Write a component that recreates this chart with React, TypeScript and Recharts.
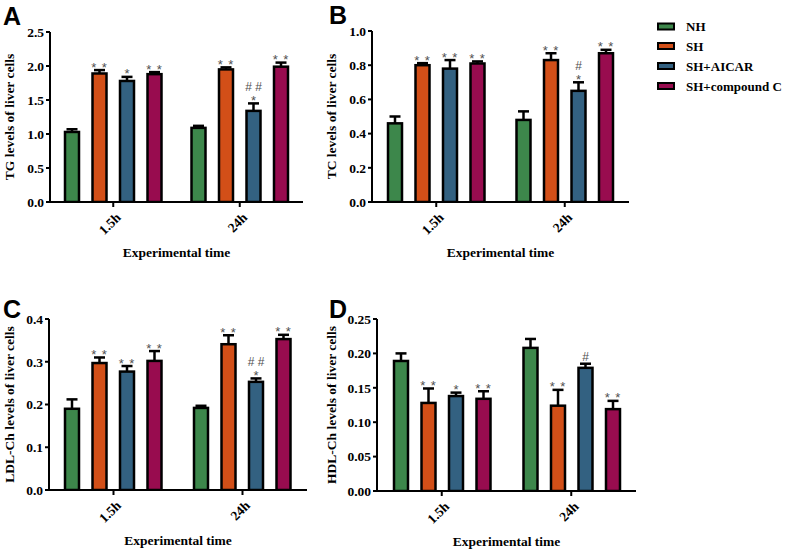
import React from 'react';
import { BarChart, Bar, XAxis, YAxis, Label } from 'recharts';

const categories = ['1.5h', '24h'];
const seriesNames = ['NH', 'SH', 'SH+AICAR', 'SH+compound C'];
const seriesColors = ['#3d874b', '#d24f18', '#336181', '#980c4f'];

// TG
const tgNH = [1.03, 1.09];
const tgSH = [1.89, 1.95];
const tgAICAR = [1.78, 1.34];
const tgCompC = [1.88, 1.99];
const tgErrNH = [0.04, 0.03];
const tgErrSH = [0.05, 0.03];
const tgErrAICAR = [0.06, 0.11];
const tgErrCompC = [0.03, 0.06];
const tgSigNH = [[], []];
const tgSigSH = [['* *'], ['* *']];
const tgSigAICAR = [['*'], ['# #', '*']];
const tgSigCompC = [['* *'], ['* *']];
const tgTicks = [0, 0.5, 1.0, 1.5, 2.0, 2.5];

// TC
const tcNH = [0.46, 0.48];
const tcSH = [0.8, 0.83];
const tcAICAR = [0.78, 0.65];
const tcCompC = [0.81, 0.87];
const tcErrNH = [0.04, 0.05];
const tcErrSH = [0.012, 0.04];
const tcErrAICAR = [0.05, 0.05];
const tcErrCompC = [0.012, 0.02];
const tcSigNH = [[], []];
const tcSigSH = [['* *'], ['* *']];
const tcSigAICAR = [['* *'], ['#', '*']];
const tcSigCompC = [['* *'], ['* *']];
const tcTicks = [0, 0.2, 0.4, 0.6, 0.8, 1.0];

// LDL-Ch
const ldlNH = [0.19, 0.192];
const ldlSH = [0.297, 0.341];
const ldlAICAR = [0.277, 0.253];
const ldlCompC = [0.302, 0.353];
const ldlErrNH = [0.022, 0.005];
const ldlErrSH = [0.013, 0.021];
const ldlErrAICAR = [0.013, 0.008];
const ldlErrCompC = [0.023, 0.01];
const ldlSigNH = [[], []];
const ldlSigSH = [['* *'], ['* *']];
const ldlSigAICAR = [['* *'], ['# #', '*']];
const ldlSigCompC = [['* *'], ['* *']];
const ldlTicks = [0, 0.1, 0.2, 0.3, 0.4];

// HDL-Ch
const hdlNH = [0.189, 0.208];
const hdlSH = [0.128, 0.124];
const hdlAICAR = [0.138, 0.179];
const hdlCompC = [0.134, 0.119];
const hdlErrNH = [0.011, 0.013];
const hdlErrSH = [0.021, 0.023];
const hdlErrAICAR = [0.005, 0.006];
const hdlErrCompC = [0.011, 0.012];
const hdlSigNH = [[], []];
const hdlSigSH = [['* *'], ['* *']];
const hdlSigAICAR = [['*'], ['#']];
const hdlSigCompC = [['* *'], ['* *']];
const hdlTicks = [0, 0.05, 0.1, 0.15, 0.2, 0.25];

const SERIF = '"Liberation Serif", "Times New Roman", serif';
const SANS = '"Liberation Sans", Arial, sans-serif';
const KEYS = ['s0', 's1', 's2', 's3'];

function buildRows(vals: number[][], errs: number[][], sigs: string[][][]) {
  return categories.map((c, i) => {
    const row: any = { cat: c };
    KEYS.forEach((k, j) => {
      row[k] = vals[j][i];
      row[k + '_err'] = errs[j][i];
      row[k + '_sig'] = sigs[j][i];
    });
    return row;
  });
}

const makeShape = (key: string) => (props: any) => {
  const { x, y, width, height, payload, fill } = props;
  const v = payload[key];
  const e = payload[key + '_err'];
  const s: string[] = payload[key + '_sig'] || [];
  const k = v ? height / v : 0;
  const cx = x + width / 2;
  const ey = y - e * k;
  const texts: any[] = [];
  let base = 0;
  s.slice().reverse().forEach((t, i) => {
    if (i === 0) base = t.indexOf('#') >= 0 ? ey - 2.5 : ey + 1.5;
    else base = base - 13.5;
    const isStar = t.indexOf('*') >= 0;
    texts.push(
      <text key={i} x={cx} y={base} textAnchor="middle" fontFamily={SANS} fontSize={isStar ? 13 : 12} fill="#505050"
        letterSpacing={isStar && t.length > 1 ? 1 : 0}>{t}</text>
    );
  });
  return (
    <g>
      <line x1={cx} x2={cx} y1={y} y2={ey} stroke="#000" strokeWidth={2.5} />
      <line x1={cx - 5.5} x2={cx + 5.5} y1={ey} y2={ey} stroke="#000" strokeWidth={2.5} />
      <rect x={x} y={y} width={width} height={height} fill={fill} stroke="#000" strokeWidth={2.5} />
      {texts}
    </g>
  );
};
const shapes = KEYS.map((k) => makeShape(k));

const XTick = (props: any) => {
  const { x, y, payload } = props;
  return (
    <g transform={`translate(${x + 5},${y + 6})`}>
      <text transform="rotate(-45)" textAnchor="end" dy="0.35em" fontFamily={SERIF}
        fontWeight="bold" fontSize={13.5} fill="#000">{payload.value}</text>
    </g>
  );
};

type Frame = { left: number; top: number; plotLeft: number; plotTop: number; plotRight: number; plotBottom: number };

function Panel({ letter, letterX, letterY, yLabel, rows, ticks, digits, frame }: any) {
  const f: Frame = frame;
  const w = f.plotRight - f.left + 12;
  const h = f.plotBottom - f.top + 70;
  const max = ticks[ticks.length - 1];
  return (
    <>
      <div style={{ position: 'absolute', left: letterX, top: letterY, fontFamily: SANS, fontWeight: 'bold', fontSize: 25, lineHeight: '25px', color: '#000' }}>{letter}</div>
      <div style={{ position: 'absolute', left: f.left, top: f.top }}>
        <BarChart width={w} height={h} data={rows}
          margin={{ top: f.plotTop - f.top, right: w - (f.plotRight - f.left), left: 0, bottom: 0 }}
          barSize={14} barGap={13.5}>
          <XAxis dataKey="cat" height={70} interval={0} axisLine={{ stroke: '#000', strokeWidth: 2 }}
            tickLine={{ stroke: '#000', strokeWidth: 2 }} tickSize={5} tick={<XTick />}>
            <Label content={(p: any) => {
              const vb = p.viewBox;
              return <text x={vb.x + vb.width / 2} y={vb.y + 50} textAnchor="middle" dominantBaseline="central"
                fontFamily={SERIF} fontWeight="bold" fontSize={13.5} fill="#000">Experimental time</text>;
            }} />
          </XAxis>
          <YAxis type="number" domain={[0, max]} ticks={ticks} width={f.plotLeft - f.left}
            allowDataOverflow tickFormatter={(v: number) => v.toFixed(digits)}
            axisLine={{ stroke: '#000', strokeWidth: 2 }} tickLine={{ stroke: '#000', strokeWidth: 2 }} tickSize={4}
            tick={{ fill: '#000', fontFamily: SERIF, fontWeight: 'bold', fontSize: 13.5 }}>
            <Label content={(p: any) => {
              const vb = p.viewBox;
              const cx = vb.x + 9;
              const cy = vb.y + vb.height / 2;
              return <text x={cx} y={cy} transform={`rotate(-90, ${cx}, ${cy})`} textAnchor="middle" dominantBaseline="central"
                fontFamily={SERIF} fontWeight="bold" fontSize={13.5} fill="#000">{yLabel}</text>;
            }} />
          </YAxis>
          {KEYS.map((k, j) => (
            <Bar key={k} dataKey={k} name={seriesNames[j]} fill={seriesColors[j]} shape={shapes[j]} isAnimationActive={false} />
          ))}
        </BarChart>
      </div>
    </>
  );
}

const legendY = [26.5, 46, 66, 86];

export default function App() {
  const tgRows = buildRows([tgNH, tgSH, tgAICAR, tgCompC], [tgErrNH, tgErrSH, tgErrAICAR, tgErrCompC], [tgSigNH, tgSigSH, tgSigAICAR, tgSigCompC]);
  const tcRows = buildRows([tcNH, tcSH, tcAICAR, tcCompC], [tcErrNH, tcErrSH, tcErrAICAR, tcErrCompC], [tcSigNH, tcSigSH, tcSigAICAR, tcSigCompC]);
  const ldlRows = buildRows([ldlNH, ldlSH, ldlAICAR, ldlCompC], [ldlErrNH, ldlErrSH, ldlErrAICAR, ldlErrCompC], [ldlSigNH, ldlSigSH, ldlSigAICAR, ldlSigCompC]);
  const hdlRows = buildRows([hdlNH, hdlSH, hdlAICAR, hdlCompC], [hdlErrNH, hdlErrSH, hdlErrAICAR, hdlErrCompC], [hdlSigNH, hdlSigSH, hdlSigAICAR, hdlSigCompC]);
  return (
    <div style={{ position: 'absolute', left: 0, top: 0, width: 786, height: 551, background: '#fff', overflow: 'hidden' }}>
      <Panel letter="A" letterX={3} letterY={4} yLabel="TG levels of liver cells" rows={tgRows} ticks={tgTicks} digits={1}
        frame={{ left: 0, top: 0, plotLeft: 50, plotTop: 32, plotRight: 303, plotBottom: 202 }} />
      <Panel letter="B" letterX={329} letterY={3} yLabel="TC levels of liver cells" rows={tcRows} ticks={tcTicks} digits={1}
        frame={{ left: 322, top: 0, plotLeft: 372, plotTop: 31, plotRight: 629, plotBottom: 202 }} />
      <Panel letter="C" letterX={3} letterY={297} yLabel="LDL-Ch levels of liver cells" rows={ldlRows} ticks={ldlTicks} digits={1}
        frame={{ left: 0, top: 288, plotLeft: 49, plotTop: 319, plotRight: 307, plotBottom: 490 }} />
      <Panel letter="D" letterX={329} letterY={297} yLabel="HDL-Ch levels of liver cells" rows={hdlRows} ticks={hdlTicks} digits={2}
        frame={{ left: 322, top: 288, plotLeft: 377, plotTop: 319, plotRight: 636, plotBottom: 491 }} />
      <svg style={{ position: 'absolute', left: 640, top: 0 }} width={146} height={110}>
        {seriesNames.map((n, i) => (
          <g key={n}>
            <rect x={18} y={legendY[i] - 3} width={16} height={6} fill={seriesColors[i]} stroke="#000" strokeWidth={2} />
            <text x={46} y={legendY[i]} dominantBaseline="central" fontFamily={SERIF} fontWeight="bold" fontSize={13} fill="#000">{n}</text>
          </g>
        ))}
      </svg>
    </div>
  );
}
